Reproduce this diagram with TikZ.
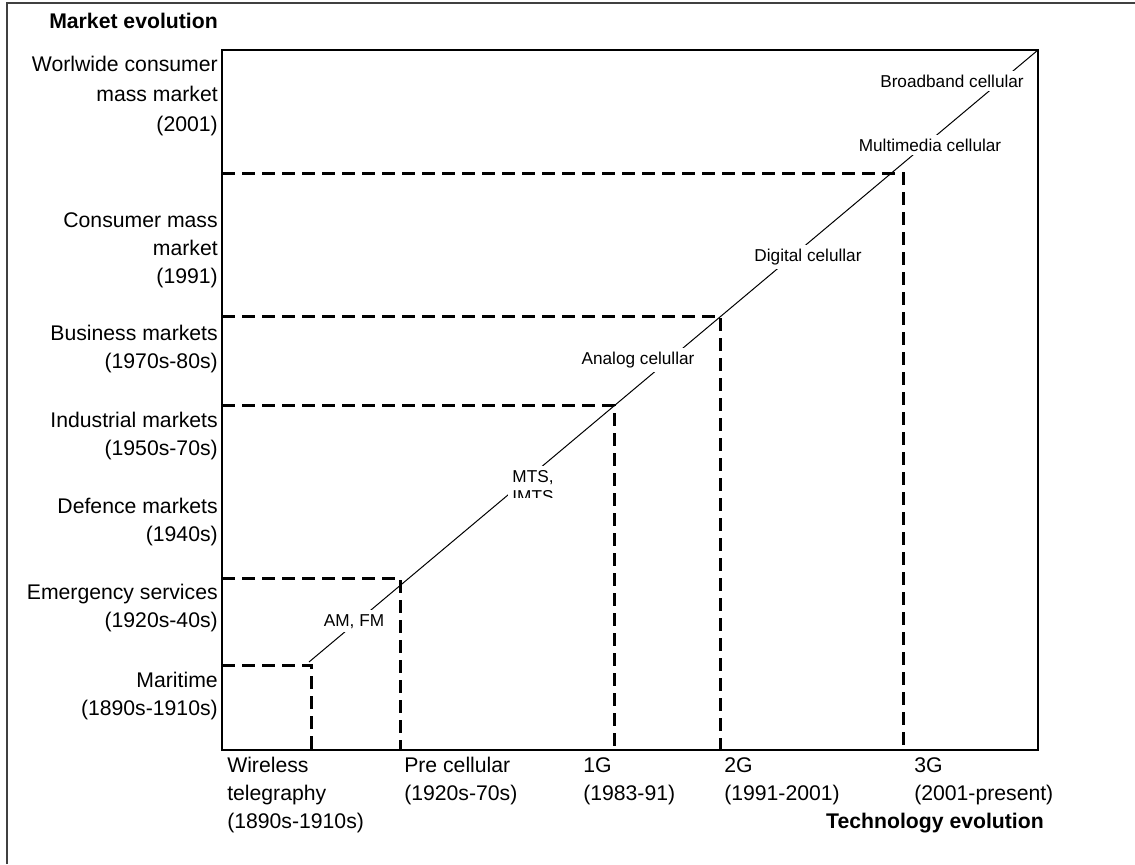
\documentclass[tikz,border=0pt]{standalone}
\usepackage{fontspec}
\setmainfont{Liberation Sans}
\begin{document}
\begin{tikzpicture}[x=0.75pt,y=-0.75pt,
  big/.style={font=\fontsize{15.9}{21}\selectfont, inner sep=0pt},
  ylab/.style={big, align=right, anchor=base east},
  xlab/.style={big, align=left, anchor=base west},
  tlab/.style={font=\fontsize{12.9}{15}\selectfont, fill=white, inner sep=3pt, anchor=base},
  axisline/.style={line width=1.5pt},
  era/.style={line width=2.25pt, dash pattern=on 10pt off 5pt},
  trend/.style={line width=0.75pt},
  frameline/.style={line width=1.1pt, black!75}]
\useasboundingbox (0,0) rectangle (1135,864);
% outer frame
\coordinate (fbl) at (7,864);
\coordinate (ftl) at (7,3);
\coordinate (ftr) at (1135,3);
\draw[frameline] (fbl) -- (ftl) -- (ftr);
% plot box
\coordinate (tl) at (222,50);
\coordinate (br) at (1038,750);
\draw[axisline] (tl) rectangle (br);
% era boxes
\draw[era] (222,665) -- (311,665) -- (311,750);
\draw[era] (222,578) -- (400,578) -- (400,750);
\draw[era] (222,405) -- (614,405) -- (614,750);
\draw[era] (222,316) -- (720,316) -- (720,750);
\draw[era] (222,173) -- (903,173) -- (903,750);
% trend line
\coordinate (ts) at (309,662);
\coordinate (te) at (1038,50);
\draw[trend] (ts) -- (te);
% labels on trend line
\node[tlab] (am) at (354,626) {AM, FM};
\node[tlab, text depth=8pt] (mts) at (533,482) {MTS,};
\begin{scope}
\clip (495,486) rectangle (570,497);
\node[tlab, fill=none] (imts) at (533,502) {IMTS};
\end{scope}
\node[tlab] (analog) at (638,364) {Analog celullar};
\node[tlab] (digital) at (808,261) {Digital celullar};
\node[tlab] (multi) at (930,151) {Multimedia cellular};
\node[tlab] (broad) at (952,87) {Broadband cellular};
% market labels (anchor = baseline of last line)
\node[ylab, font=\fontsize{15.9}{21}\selectfont\bfseries] (mkt) at (218,28) {Market evolution};
\node[ylab, font=\fontsize{15.9}{22.5}\selectfont] (m7) at (218,131) {Worlwide consumer\\mass market\\(2001)};
\node[ylab] (m6) at (218,283) {Consumer mass\\market\\(1991)};
\node[ylab] (m5) at (218,368) {Business markets\\(1970s-80s)};
\node[ylab] (m4) at (218,455) {Industrial markets\\(1950s-70s)};
\node[ylab] (m3) at (218,541) {Defence markets\\(1940s)};
\node[ylab] (m2) at (218,627) {Emergency services\\(1920s-40s)};
\node[ylab] (m1) at (218,715) {Maritime\\(1890s-1910s)};
% technology labels
\node[xlab] (t1) at (227,828) {Wireless\\telegraphy\\(1890s-1910s)};
\node[xlab] (t2) at (404,800) {Pre cellular\\(1920s-70s)};
\node[xlab] (t3) at (583,800) {1G\\(1983-91)};
\node[xlab] (t4) at (724,800) {2G\\(1991-2001)};
\node[xlab] (t5) at (914,800) {3G\\(2001-present)};
\node[big, anchor=base east, font=\fontsize{15.9}{21}\selectfont\bfseries] (tech) at (1044,828) {Technology evolution};
\end{tikzpicture}
\end{document}
